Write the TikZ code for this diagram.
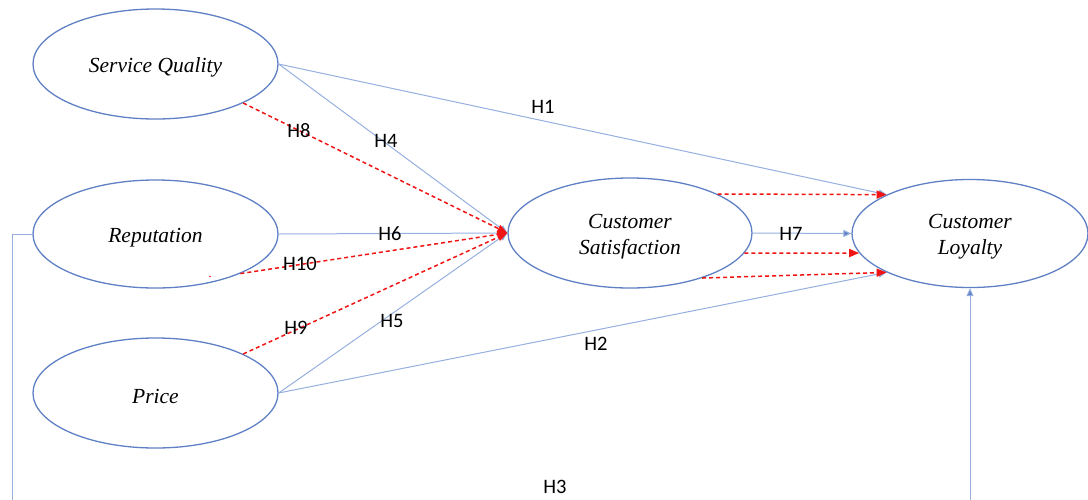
\documentclass[tikz,border=0pt]{standalone}
\usepackage{fontspec}
\setmainfont{Liberation Serif}
\newfontfamily\labfont{Carlito}
\usetikzlibrary{shapes.geometric,arrows.meta}
\definecolor{ellblue}{RGB}{95,128,196}
\definecolor{linblue}{RGB}{150,175,222}
\definecolor{arrred}{RGB}{240,20,20}
\tikzset{
  construct/.style={ellipse, draw=ellblue, line width=1.3pt, inner sep=0pt,
    label={[font=\fontsize{21.5}{26}\selectfont\itshape, align=center, yshift=-3.5pt, inner sep=0pt]center:#1}},
  solidlink/.style={draw=linblue, line width=1pt},
  solidarrow/.style={solidlink, -{Triangle[length=8pt,width=7pt,fill=ellblue]}},
  redlink/.style={draw=arrred, line width=1.5pt, dash pattern=on 4pt off 3pt,
    -{Triangle[length=10pt,width=8pt,fill=arrred]}},
  hlabel/.style={font=\labfont\fontsize{20.5}{22}\selectfont, inner sep=1pt}
}
\begin{document}
\begin{tikzpicture}[x=1pt,y=-1pt]
\useasboundingbox (0,0) rectangle (1088,499);
\node[construct={Service Quality}, minimum width=245pt, minimum height=110pt] (sq) at (155.5,64) {};
\node[construct={Reputation}, minimum width=245pt, minimum height=108pt] (rep) at (155.5,234) {};
\node[construct={Price}, minimum width=245pt, minimum height=110pt] (pr) at (155.5,393) {};
\node[construct={Customer\\Satisfaction}, minimum width=244pt, minimum height=110pt] (cs) at (630,233) {};
\node[construct={Customer\\Loyalty}, minimum width=236pt, minimum height=108pt] (cl) at (970,233.5) {};

% solid links
\draw[solidarrow] (sq.east) -- (cl.155);
\draw[solidarrow] (sq.east) -- (cs.west);
\draw[solidarrow] (rep.east) -- (cs.west);
\draw[solidarrow] (pr.east) -- (cs.west);
\draw[solidarrow] (pr.east) -- (cl.-155);
\draw[solidarrow] (cs.east) -- (cl.west);
\coordinate (lb) at (12,520);
\coordinate (rb) at (970,520);
\draw[solidarrow] (rep.west) -| (lb) -- (rb) -- (cl.south);

% red dashed links
\draw[redlink] (sq.-24) -- (cs.west);
\draw[redlink] (rep.-25) -- (cs.west);
\draw[redlink] (pr.24) -- (cs.west);
\draw[redlink] (cs.24) -- (cl.155);
\draw[redlink] (cs.-10) -- (cl.190);
\draw[redlink] (cs.-32) -- (cl.-155);
\fill[arrred] (210,276.5) circle (0.9pt);

% labels
\node[hlabel] (h1) at (543,107) {H1};
\node[hlabel] (h8) at (299,131) {H8};
\node[hlabel] (h4) at (386,141) {H4};
\node[hlabel] (h6) at (390,234) {H6};
\node[hlabel] (h10) at (300,264) {H10};
\node[hlabel] (h9) at (296,328) {H9};
\node[hlabel] (h5) at (392,321) {H5};
\node[hlabel] (h2) at (596,344) {H2};
\node[hlabel] (h7) at (791,234) {H7};
\node[hlabel] (h3) at (555,487) {H3};
\end{tikzpicture}
\end{document}
